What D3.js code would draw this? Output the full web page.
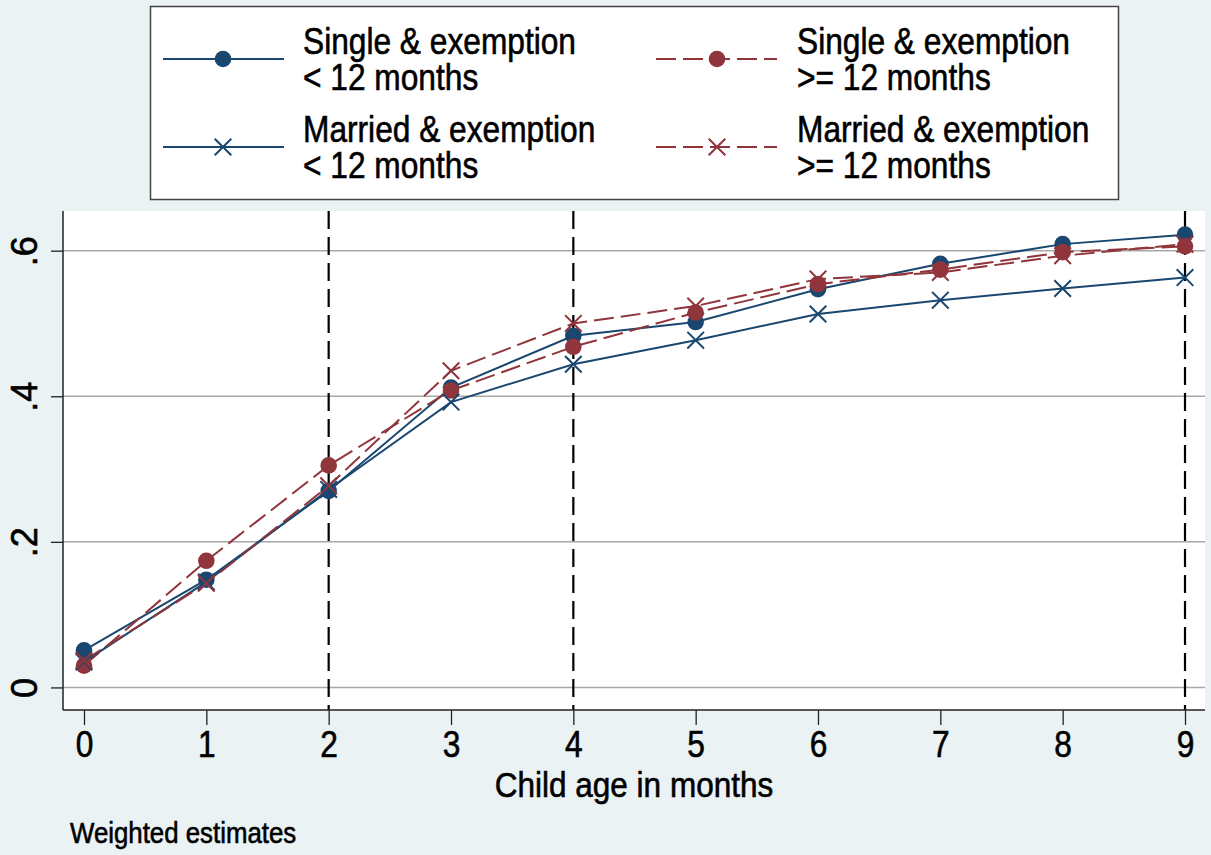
<!DOCTYPE html>
<html>
<head>
<meta charset="utf-8">
<script src="https://cdn.jsdelivr.net/npm/d3@7"></script>
<style>
  html, body { margin: 0; padding: 0; background: #eaf2f3; }
  svg { display: block; }
  text { font-family: Arial, "Liberation Sans", Helvetica, sans-serif; fill: #000; stroke: #000; stroke-width: 0.6px; }
</style>
</head>
<body>
<svg id="chart" width="1211" height="855"></svg>
<script>
// ---- data ----
const months = [0, 1, 2, 3, 4, 5, 6, 7, 8, 9];
const singleLt12  = [0.051, 0.148, 0.270, 0.412, 0.483, 0.502, 0.547, 0.582, 0.609, 0.622];
const singleGe12  = [0.030, 0.174, 0.305, 0.408, 0.468, 0.515, 0.554, 0.574, 0.598, 0.606];
const marriedLt12 = [0.035, 0.145, 0.272, 0.392, 0.444, 0.477, 0.513, 0.532, 0.548, 0.563];
const marriedGe12 = [0.037, 0.143, 0.277, 0.435, 0.500, 0.524, 0.561, 0.570, 0.593, 0.609];
const seriesLabels = [
  ["Single & exemption", "< 12 months"],
  ["Single & exemption", ">= 12 months"],
  ["Married & exemption", "< 12 months"],
  ["Married & exemption", ">= 12 months"]
];
const yTicks = [0, 0.2, 0.4, 0.6];
const yTickLabels = ["0", ".2", ".4", ".6"];
const xTicks = months;
const refLines = [2, 4, 9];
const xTitle = "Child age in months";
const note = "Weighted estimates";

// ---- styling ----
const BLUE = "#1a476f", RED = "#90353b";
const series = [
  { values: singleLt12,  color: BLUE, dash: null,   marker: "circle" },
  { values: singleGe12,  color: RED,  dash: "20,7", marker: "circle" },
  { values: marriedLt12, color: BLUE, dash: null,   marker: "x" },
  { values: marriedGe12, color: RED,  dash: "20,7", marker: "x" }
];

const svg = d3.select("#chart");
const plot = { left: 63, right: 1205, top: 211, bottom: 710 };

const x = d3.scaleLinear().domain([-0.1717, 9.1635]).range([plot.left, plot.right]);
const y = d3.scaleLinear().domain([-0.031, 0.6545]).range([plot.bottom, plot.top]);

function squeeze(sel, k) {
  sel.each(function () {
    const len = this.getComputedTextLength();
    d3.select(this).attr("textLength", len * k).attr("lengthAdjust", "spacingAndGlyphs");
  });
}

// background
svg.append("rect").attr("width", 1211).attr("height", 855).attr("fill", "#eaf2f3");
// plot region
svg.append("rect")
  .attr("x", plot.left).attr("y", plot.top)
  .attr("width", plot.right - plot.left).attr("height", plot.bottom - plot.top)
  .attr("fill", "#ffffff");

// grid lines
svg.append("g").selectAll("line").data(yTicks).join("line")
  .attr("x1", plot.left).attr("x2", plot.right)
  .attr("y1", d => y(d)).attr("y2", d => y(d))
  .attr("stroke", "#a8a8a8").attr("stroke-width", 1.5);

// reference vertical dashed lines
svg.append("g").selectAll("line").data(refLines).join("line")
  .attr("x1", d => x(d)).attr("x2", d => x(d))
  .attr("y1", plot.top).attr("y2", plot.bottom)
  .attr("stroke", "#000").attr("stroke-width", 2.2)
  .attr("stroke-dasharray", "18,8");

// axes
const yAxis = d3.axisLeft(y).tickValues(yTicks).tickSize(12).tickFormat((d, i) => yTickLabels[i]);
const gy = svg.append("g").attr("transform", `translate(${plot.left},0)`).call(yAxis);
gy.select(".domain").attr("d", `M0,${plot.top}V${plot.bottom}`).attr("stroke", "#222").attr("stroke-width", 1.5);
gy.selectAll(".tick line").attr("stroke", "#222").attr("stroke-width", 1.3);
gy.selectAll(".tick text")
  .attr("x", 0).attr("y", 0).attr("dy", 0)
  .attr("transform", "translate(-26,0) rotate(-90)")
  .attr("text-anchor", "middle")
  .style("font-size", "36px").style("font-family", "Arial, 'Liberation Sans', sans-serif").attr("fill", "#000");

const xAxis = d3.axisBottom(x).tickValues(xTicks).tickSize(15).tickFormat(d3.format("d"));
const gx = svg.append("g").attr("transform", `translate(0,${plot.bottom})`).call(xAxis);
gx.select(".domain").attr("d", `M${plot.left},0H${plot.right}`).attr("stroke", "#222").attr("stroke-width", 1.5);
gx.selectAll(".tick line").attr("stroke", "#222").attr("stroke-width", 1.3);
gx.selectAll(".tick text")
  .attr("y", 47).attr("dy", 0)
  .style("font-size", "36px").style("font-family", "Arial, 'Liberation Sans', sans-serif").attr("fill", "#000")
  .call(squeeze, 0.88);

// series lines
const line = d3.line().x((d, i) => x(months[i])).y(d => y(d));
const gSeries = svg.append("g");
series.forEach(s => {
  gSeries.append("path").datum(s.values)
    .attr("d", line).attr("fill", "none")
    .attr("stroke", s.color).attr("stroke-width", 2)
    .attr("stroke-dasharray", s.dash);
});
function drawMarker(g, type, cx, cy, color, r) {
  if (type === "circle") {
    g.append("circle").attr("cx", cx).attr("cy", cy).attr("r", r).attr("fill", color);
  } else {
    const h = r;
    g.append("path")
      .attr("d", `M${cx - h},${cy - h}L${cx + h},${cy + h}M${cx - h},${cy + h}L${cx + h},${cy - h}`)
      .attr("stroke", color).attr("stroke-width", 2).attr("fill", "none");
  }
}
series.forEach(s => {
  const g = gSeries.append("g");
  s.values.forEach((v, i) => drawMarker(g, s.marker, x(months[i]), y(v), s.color, 8.3));
});

// axis title & note
svg.append("text").attr("x", (plot.left + plot.right) / 2).attr("y", 797)
  .attr("text-anchor", "middle").style("font-size", "35px").text(xTitle)
  .call(squeeze, 0.9);
svg.append("text").attr("x", 70).attr("y", 843)
  .style("font-size", "29px").text(note)
  .call(squeeze, 0.89);

// legend
const leg = svg.append("g");
leg.append("rect").attr("x", 150.5).attr("y", 6.5).attr("width", 968).attr("height", 193)
  .attr("fill", "#fff").attr("stroke", "#444").attr("stroke-width", 1.5);
const legPos = [
  { lx1: 163, lx2: 284, mx: 223, ly: 59,  tx: 303 },
  { lx1: 656, lx2: 777, mx: 717, ly: 59,  tx: 797 },
  { lx1: 163, lx2: 284, mx: 223, ly: 147, tx: 303 },
  { lx1: 656, lx2: 777, mx: 717, ly: 147, tx: 797 }
];
series.forEach((s, i) => {
  const p = legPos[i];
  leg.append("line").attr("x1", p.lx1).attr("x2", p.lx2).attr("y1", p.ly).attr("y2", p.ly)
    .attr("stroke", s.color).attr("stroke-width", 2).attr("stroke-dasharray", s.dash);
  drawMarker(leg, s.marker, p.mx, p.ly, s.color, 8.3);
  const t = leg.append("text").style("font-size", "36px");
  t.append("tspan").attr("x", p.tx).attr("y", p.ly - 5).text(seriesLabels[i][0]);
  t.append("tspan").attr("x", p.tx).attr("y", p.ly + 31).text(seriesLabels[i][1]);
  t.selectAll("tspan").call(squeeze, 0.88);
});
</script>
</body>
</html>
